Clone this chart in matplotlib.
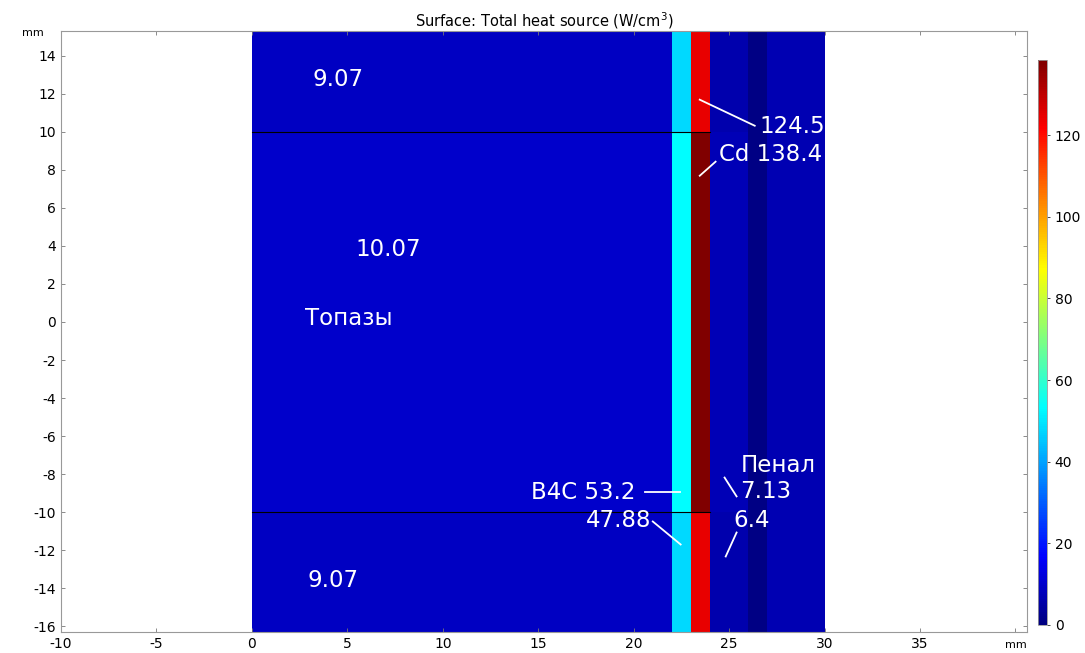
import numpy as np
import matplotlib
matplotlib.use("Agg")
import matplotlib.pyplot as plt
from matplotlib.colors import LinearSegmentedColormap

plt.rcParams["axes.unicode_minus"] = False

# region boundaries (mm)
x_edges = [0, 22, 23, 24, 26, 27, 30]
y_edges = [-16.3, -10, 10, 15.3]

# heat source per region, rows bottom -> top (W/cm^3)
row_bottom = [9.07, 47.88, 124.5, 6.4, 0.8, 7.0]
row_middle = [10.07, 53.2, 138.4, 7.13, 0.8, 7.0]
row_top = [9.07, 47.88, 124.5, 6.4, 0.8, 7.0]

cbar_ticks = [0, 20, 40, 60, 80, 100, 120]

# labels: (text, x, y) in data coords, left aligned
labels = [("9.07", 3.2, 12.75), ("10.07", 5.4, 3.8), ("Топазы", 2.8, 0.2),
          ("9.07", 2.9, -13.6), ("124.5", 26.6, 10.3), ("Cd 138.4", 24.45, 8.8),
          ("B4C 53.2", 14.6, -8.95), ("47.88", 17.5, -10.45),
          ("Пенал", 25.6, -7.55), ("7.13", 25.6, -8.9), ("6.4", 25.2, -10.45)]
leaders = [((23.46, 11.69), (26.34, 10.32)), ((23.46, 7.69), (24.29, 8.43)),
           ((20.58, -8.96), (22.41, -8.96)), ((21.0, -10.49), (22.46, -11.7)),
           ((24.76, -8.18), (25.39, -9.17)), ((25.39, -11.07), (24.82, -12.33))]

grid = np.array([row_bottom, row_middle, row_top])

# rainbow close to the COMSOL one
rainbow = LinearSegmentedColormap.from_list("rainbow_c", [
    (0.0, (0, 0, 0.5)), (0.12, (0, 0, 1)), (0.385, (0, 1, 1)),
    (0.63, (1, 1, 0)), (0.88, (1, 0, 0)), (1.0, (0.5, 0, 0))])

fig = plt.figure(figsize=(10.85, 6.53), dpi=100)
ax = fig.add_axes([0.0562, 0.0322, 0.8903, 0.9203])
mesh = ax.pcolormesh(x_edges, y_edges, grid, cmap=rainbow, vmin=0, vmax=138.4,
                     shading="flat")
ax.plot([0, 24], [10, 10], color="black", lw=0.8)
ax.plot([0, 24], [-10, -10], color="black", lw=0.8)

for t, x, y in labels:
    ax.text(x, y, t, color="white", fontsize=16.5, ha="left", va="center")
for (x0, y0), (x1, y1) in leaders:
    ax.plot([x0, x1], [y0, y1], color="white", lw=1.3)

ax.set_xlim(-10, 40.6)
ax.set_ylim(-16.3, 15.3)
xt = list(range(-10, 45, 5))
ax.set_xticks(xt)
ax.set_xticklabels([str(v) for v in xt[:-1]] + [""])
ax.set_yticks(range(-16, 15, 2))
ax.tick_params(labelsize=10, length=3, width=0.6, color="#777777",
               top=True, right=True, direction="in")
for s in ax.spines.values():
    s.set_color("#999999")
    s.set_linewidth(0.8)

ax.set_title("Surface: Total heat source (W/cm$^3$)", fontsize=10.5, pad=3)
fig.text(0.020, 0.950, "mm", fontsize=8, ha="left", va="center")
fig.text(0.936, 0.012, "mm", fontsize=8, ha="center", va="center")

cax = fig.add_axes([0.9567, 0.0429, 0.0083, 0.865])
cb = fig.colorbar(mesh, cax=cax, ticks=cbar_ticks)
cb.outline.set_edgecolor("#999999")
cb.outline.set_linewidth(0.6)
cax.tick_params(labelsize=10, length=2, width=0.5)

fig.savefig("out.png", dpi=100)
